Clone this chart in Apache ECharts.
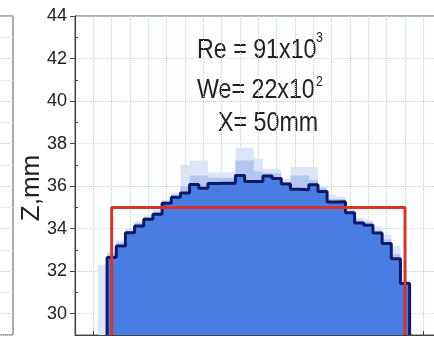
<!DOCTYPE html>
<html><head><meta charset="utf-8">
<script src="https://cdn.jsdelivr.net/npm/echarts@6/dist/echarts.min.js"></script>
<style>html,body{margin:0;padding:0;background:#fff}#c{width:434px;height:338px}</style>
</head><body><div id="c"></div>
<script>
// ---- data ----
const yTicks = [30, 32, 34, 36, 38, 40, 42, 44];
const yMinorTicks = [29, 31, 33, 35, 37, 39, 41, 43];
const yName = 'Z,mm';
const profileX = [-8, -7.5, -7, -6.5, -6, -5.5, -5, -4.5, -4, -3.5, -3, -2.5, -2, -1.5, -1, -0.5, 0, 0.5, 1, 1.5, 2, 2.5, 3, 3.5, 4, 4.5, 5, 5.5, 6, 6.5, 7, 7.5, 8];
const profileZ = [32.64, 33.19, 33.81, 34.13, 34.44, 34.68, 35.2, 35.48, 35.68, 36.08, 35.9, 36.12, 36.13, 36.14, 36.5, 36.22, 36.22, 36.48, 36.36, 36.1, 35.85, 35.83, 36.06, 35.75, 35.25, 35.27, 34.75, 34.27, 34.16, 33.8, 33.3, 32.58, 31.42];
const envX = [-8.5, -8, -7.5, -7, -6.5, -6, -5.5, -5, -4.5, -4, -3.5, -3, -2.5, -2, -1.5, -1, -0.5, 0, 0.5, 1, 1.5, 2, 2.5, 3, 3.5, 4, 4.5, 5, 5.5, 6, 6.5, 7, 7.5, 8];
const envMaxZ = [32.3, 32.9, 33.45, 34.0, 34.35, 34.65, 34.9, 35.35, 35.7, 37.0, 37.2, 37.2, 36.65, 36.65, 36.65, 37.8, 37.8, 37.3, 36.8, 36.8, 36.35, 36.9, 36.9, 36.9, 36.0, 35.6, 35.5, 35.0, 34.5, 34.4, 34.1, 33.7, 33.2, 31.6];
const envMidZ = [29, 32.8, 33.35, 33.9, 34.25, 34.55, 34.8, 35.3, 35.6, 36.0, 36.5, 36.5, 36.4, 36.4, 36.4, 37.2, 37.2, 36.7, 36.6, 36.6, 36.2, 36.5, 36.5, 36.3, 35.9, 35.4, 35.4, 34.85, 34.4, 34.3, 33.9, 33.5, 32.8, 31.5];
const nozzleX = [-8, -8, 8, 8];
const nozzleZ = [29, 35, 35, 29];
const annotations = [
  { main: 'Re = 91x10', sup: '3' },
  { main: 'We= 22x10', sup: '2' },
  { main: 'X= 50mm', sup: '' }
];
const X_MIN = -10, X_MAX = 10, Z_MIN = 29, Z_MAX = 44;

// ---- helpers ----
function toSteps(xs, ys, base) {
  const half = (xs[1] - xs[0]) / 2;
  const pts = [[xs[0] - half, base]];
  for (let i = 0; i < xs.length; i++) {
    pts.push([xs[i] - half, ys[i]]);
    pts.push([xs[i] + half, ys[i]]);
  }
  pts.push([xs[xs.length - 1] + half, base]);
  return pts;
}

const FONT = "'Liberation Sans', Arial, sans-serif";
const gridGreen = '#b3e0b3';
const gridGrey = '#d6e0d6';
const txtPos = [[197, 50], [197, 90], [218, 123]];
const supPos = [[316, 38], [316, 82]];

const graphics = [];
annotations.forEach((a, i) => {
  graphics.push({ type: 'text', x: txtPos[i][0], y: txtPos[i][1], scaleX: 0.83, silent: true,
    style: { text: a.main, font: '28px ' + FONT, fill: '#222', verticalAlign: 'middle', align: 'left' } });
  if (a.sup) graphics.push({ type: 'text', x: supPos[i][0], y: supPos[i][1], scaleX: 0.82, silent: true,
    style: { text: a.sup, font: '15px ' + FONT, fill: '#222', verticalAlign: 'middle', align: 'left' } });
});

const chart = echarts.init(document.getElementById('c'), null, { renderer: 'canvas' });
chart.setOption({
  animation: false,
  backgroundColor: '#ffffff',
  grid: [
    { left: 75, right: -7.7, top: 16, bottom: 3, show: true, borderColor: '#555', borderWidth: 1, backgroundColor: 'transparent', outerBoundsMode: 'none', containLabel: false },
    { left: -100, right: 421, top: 16, bottom: 3, show: true, borderColor: '#555', borderWidth: 1, backgroundColor: 'transparent', outerBoundsMode: 'none', containLabel: false }
  ],
  xAxis: [
    { type: 'value', gridIndex: 0, min: X_MIN, max: X_MAX, interval: 1,
      axisLine: { show: true, onZero: false, lineStyle: { color: '#444', width: 1.2 } },
      axisTick: { show: true, inside: true, length: 4, lineStyle: { color: '#444' } },
      axisLabel: { show: false },
      splitLine: { show: true, lineStyle: { color: gridGreen, type: 'dotted', width: 1 } } },
    { type: 'value', gridIndex: 1, min: 0, max: 1, show: false }
  ],
  yAxis: [
    { type: 'value', gridIndex: 0, min: Z_MIN, max: Z_MAX, interval: 1,
      name: yName, nameLocation: 'middle', nameGap: 30, nameRotate: 90, nameMoveOverlap: false,
      nameTextStyle: { fontFamily: FONT, fontSize: 26, color: '#222', padding: [0, 25, 0, 0] },
      axisLine: { show: true, onZero: false, lineStyle: { color: '#444', width: 1.2 } },
      axisTick: { show: true, inside: false, length: 5, customValues: yTicks, lineStyle: { color: '#444' } },
      axisLabel: { show: true, margin: 8, fontFamily: FONT, fontSize: 18, color: '#222', customValues: yTicks },
      splitLine: { show: true, lineStyle: { color: [gridGrey, gridGreen], type: 'dotted', width: 1 } } },
    { type: 'value', gridIndex: 0, min: Z_MIN, max: Z_MAX, interval: 1, position: 'left',
      axisLine: { show: false, onZero: false }, axisLabel: { show: false }, splitLine: { show: false },
      axisTick: { show: true, inside: true, length: 3, customValues: yMinorTicks, lineStyle: { color: '#444' } } },
    { type: 'value', gridIndex: 1, min: Z_MIN, max: Z_MAX, interval: 1,
      axisLine: { show: false, onZero: false }, axisLabel: { show: false }, axisTick: { show: false },
      splitLine: { show: true, lineStyle: { color: [gridGrey, gridGreen], type: 'dotted', width: 1 } } }
  ],
  series: [
    { type: 'line', name: 'envelope max', xAxisIndex: 0, yAxisIndex: 0, data: toSteps(envX, envMaxZ, Z_MIN),
      showSymbol: false, lineStyle: { width: 0, opacity: 0 }, areaStyle: { color: '#dce5f7', opacity: 1, origin: 'start' }, silent: true },
    { type: 'line', name: 'envelope mid', xAxisIndex: 0, yAxisIndex: 0, data: toSteps(envX, envMidZ, Z_MIN),
      showSymbol: false, lineStyle: { width: 0, opacity: 0 }, areaStyle: { color: '#b3c6f0', opacity: 1, origin: 'start' }, silent: true },
    { type: 'line', name: 'profile', xAxisIndex: 0, yAxisIndex: 0, data: toSteps(profileX, profileZ, Z_MIN),
      showSymbol: false, lineStyle: { width: 3, color: '#0d1a6a' }, areaStyle: { color: '#4a7de3', opacity: 1, origin: 'start' }, silent: true },
    { type: 'line', name: 'nozzle', xAxisIndex: 0, yAxisIndex: 0, data: nozzleX.map((x, i) => [x, nozzleZ[i]]),
      showSymbol: false, lineStyle: { width: 3, color: '#d8322b' }, silent: true }
  ],
  graphic: graphics
});
</script></body></html>
